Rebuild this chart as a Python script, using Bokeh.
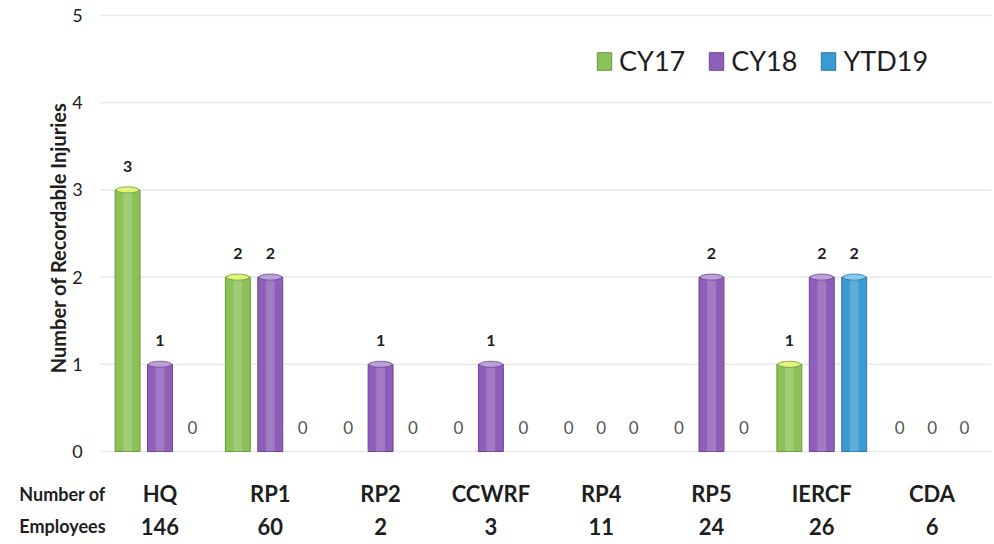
import math
from bokeh.plotting import figure
from bokeh.models import Range1d, Legend, LegendItem, ColumnDataSource
from bokeh.core.properties import value
from bokeh.embed import file_html
from bokeh.resources import INLINE

# Recordable injuries per site
sites = ["HQ", "RP1", "RP2", "CCWRF", "RP4", "RP5", "IERCF", "CDA"]
employees = [146, 60, 2, 3, 11, 24, 26, 6]
cy17 = [3, 2, 0, 0, 0, 0, 1, 0]
cy18 = [1, 2, 1, 1, 0, 2, 2, 0]
ytd19 = [0, 0, 0, 0, 0, 0, 2, 0]
y_ticks = [0, 1, 2, 3, 4, 5]

series = [
    ("CY17", cy17, "#8cc15a", "#6a9a3a", "#e4f27a"),
    ("CY18", cy18, "#8e5fb8", "#6d4494", "#b9a0d8"),
    ("YTD19", ytd19, "#3b9ad2", "#2a77a8", "#86c8ee"),
]
offsets = [-0.294, 0.0, 0.294]
bar_w = 0.226

FONT = "Lato"
INK = "#1e1e1e"

# The frame fills the whole canvas so the row headings, value scale and
# site/head-count rows can all sit around the bar area.
p = figure(width=994, height=544, output_backend="svg", toolbar_location=None,
           x_range=Range1d(-1.446, 7.566), y_range=Range1d(-1.0665, 5.172),
           min_border=0, x_axis_location=None, y_axis_location=None)
p.outline_line_color = None
p.background_fill_color = "white"
p.border_fill_color = "white"
p.grid.visible = False

n = len(sites)
left_edge, right_edge = -0.54, n - 0.46

# horizontal guide lines
p.segment(x0=[left_edge] * len(y_ticks), x1=[right_edge] * len(y_ticks),
          y0=y_ticks, y1=y_ticks, line_color="#e9e9e9", line_width=1.5)

# value scale
p.text(x=[-0.748] * len(y_ticks), y=y_ticks, text=[str(t) for t in y_ticks],
       text_align="center", text_baseline="middle", text_font=value(FONT),
       text_font_size="18px", text_color=INK)
p.text(x=[-0.925], y=[2.45], text=["Number of Recordable Injuries"],
       angle=math.pi / 2, text_align="center", text_baseline="middle",
       text_font=value(FONT), text_font_style="bold", text_font_size="20px",
       text_color=INK)

legend_items = []
for (name, vals, col, edge, cap), off in zip(series, offsets):
    xs = [i + off for i, v in enumerate(vals) if v > 0]
    tops = [v for v in vals if v > 0]
    src = ColumnDataSource(dict(x=xs, top=tops))
    r = p.vbar(x="x", top="top", width=bar_w, bottom=0, source=src,
               fill_color=col, line_color=edge, line_width=1)
    # soft highlight down each bar
    p.vbar(x="x", top="top", width=bar_w * 0.35, bottom=0, source=src,
           fill_color="white", fill_alpha=0.18, line_color=None)
    # lighter cap on top of each bar
    p.ellipse(x="x", y="top", width=bar_w * 0.92, height=0.07, source=src,
              fill_color=cap, line_color=edge, line_width=0.8)
    legend_items.append(LegendItem(label=name, renderers=[r]))

    # value labels
    nz = ColumnDataSource(dict(x=xs, y=[v + 0.27 for v in tops],
                               t=[str(v) for v in tops]))
    p.text(x="x", y="y", text="t", source=nz, text_align="center",
           text_baseline="middle", text_font=value(FONT),
           text_font_style="bold", text_font_size="16px", text_color=INK)
    zx = [i + off for i, v in enumerate(vals) if v == 0]
    zs = ColumnDataSource(dict(x=zx, y=[0.27] * len(zx), t=["0"] * len(zx)))
    p.text(x="x", y="y", text="t", source=zs, text_align="center",
           text_baseline="middle", text_font=value(FONT),
           text_font_size="17px", text_color="#555555")

# site names and head counts under the groups
idx = list(range(n))
p.text(x=idx, y=[-0.482] * n, text=sites, text_align="center",
       text_baseline="middle", text_font=value(FONT), text_font_style="bold",
       text_font_size="22px", text_color=INK)
p.text(x=idx, y=[-0.855] * n, text=[str(e) for e in employees],
       text_align="center", text_baseline="middle", text_font=value(FONT),
       text_font_style="bold", text_font_size="22px", text_color=INK)
p.text(x=[-0.884, -0.884], y=[-0.482, -0.855], text=["Number of", "Employees"],
       text_align="center", text_baseline="middle", text_font=value(FONT),
       text_font_style="bold", text_font_size="18px", text_color=INK)

legend = Legend(items=legend_items, orientation="horizontal",
                location=(595, 467), padding=0, margin=0, spacing=22,
                glyph_width=18, glyph_height=22, label_standoff=6,
                label_text_font=FONT, label_text_font_size="27px",
                label_text_color=INK, border_line_color=None,
                background_fill_alpha=0)
p.add_layout(legend)

open("out.html", "w").write(file_html(p, INLINE))
